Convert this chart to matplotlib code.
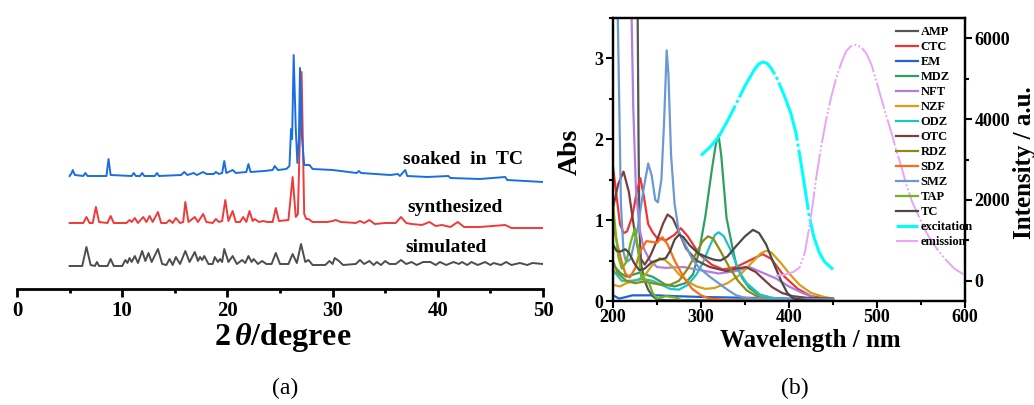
import matplotlib
matplotlib.use("Agg")
import matplotlib.pyplot as plt
from matplotlib.ticker import MultipleLocator

plt.rcParams["font.family"] = "Liberation Serif"
plt.rcParams["font.weight"] = "bold"
plt.rcParams["mathtext.fontset"] = "custom"
plt.rcParams["mathtext.it"] = "Liberation Serif:italic:bold"
plt.rcParams["mathtext.rm"] = "Liberation Serif:bold"

# ---------------- (a) XRD patterns, heights in plot units above the axis ----------------
sim_x = [5.0, 6.2, 6.6, 7.0, 7.4, 7.6, 7.8, 8.6, 8.9, 9.2, 10.0, 10.3, 10.5, 10.7, 10.9, 11.2, 11.5,
         11.9, 12.2, 12.5, 12.8, 13.4, 13.8, 14.2, 14.5, 14.8, 15.1, 15.5, 16.0, 16.4, 16.9, 17.2,
         17.4, 17.6, 17.8, 18.2, 18.6, 18.8, 19.1, 19.3, 19.5, 19.7, 20.1, 20.5, 20.9, 21.4, 21.7,
         22.0, 22.3, 22.5, 22.9, 23.3, 23.7, 24.2, 24.6, 25.0, 25.8, 26.2, 26.6, 27.0, 27.4, 27.7,
         28.1, 29.3, 29.7, 30.0, 30.2, 30.6, 31.0, 32.2, 32.6, 33.0, 33.5, 33.9, 34.2, 34.6, 35.0,
         35.4, 36.0, 36.5, 37.0, 37.5, 38.0, 38.6, 39.3, 39.8, 40.2, 40.8, 41.5, 42.0, 42.3, 42.8,
         43.2, 43.8, 44.5, 45.0, 45.3, 46.0, 46.5, 47.0, 47.8, 48.5, 49.0, 50.0]
sim_y = [23, 23, 42, 24, 23, 27, 23, 23, 30, 23, 23, 29, 26, 31, 27, 33, 26,
         38, 28, 36, 27, 40, 25, 24, 30, 24, 32, 25, 38, 27, 37, 28,
         32, 29, 33, 25, 25, 32, 27, 30, 27, 40, 27, 33, 25, 29, 26,
         33, 27, 30, 25, 28, 25, 25, 36, 25, 25, 35, 26, 45, 27, 29,
         24, 24, 28, 25, 31, 28, 24, 25, 29, 25, 28, 24, 27, 24, 28,
         25, 25, 29, 25, 27, 24, 27, 27, 24, 27, 24, 27, 25, 27, 24,
         27, 24, 27, 24, 26, 24, 27, 24, 26, 24, 26, 25]

syn_x = [5.0, 6.3, 6.6, 6.9, 7.2, 7.5, 7.8, 8.6, 8.9, 9.2, 10.4, 10.7, 10.9, 11.2, 11.5, 12.0, 12.3,
         12.6, 12.9, 13.4, 13.7, 14.2, 14.5, 14.8, 15.1, 15.5, 15.8, 16.0, 16.3, 16.9, 17.2, 17.7,
         18.0, 18.6, 18.9, 19.2, 19.5, 19.8, 20.1, 20.5, 20.8, 21.2, 21.5, 21.8, 22.1, 22.4, 22.6,
         23.0, 23.4, 23.8, 24.3, 24.6, 24.9, 25.8, 26.2, 26.5, 26.7, 27.05, 27.3, 27.5, 27.7, 28.1,
         29.5, 30.0, 30.3, 30.8, 32.2, 32.6, 33.0, 33.5, 34.0, 35.0, 36.0, 36.5, 37.0, 37.5, 38.5,
         39.2, 39.8, 40.4, 41.2, 41.9, 42.5, 44.0, 46.4, 47.0, 50.0]
syn_y = [66, 66, 72, 66, 66, 82, 67, 66, 73, 66, 66, 69, 67, 71, 66, 72, 67,
         73, 67, 77, 66, 66, 69, 66, 71, 66, 67, 87, 67, 72, 67, 75,
         67, 66, 70, 67, 68, 89, 68, 78, 67, 67, 72, 67, 78, 68, 70,
         67, 68, 67, 67, 81, 68, 69, 112, 72, 75, 217, 75, 70, 70, 67,
         67, 68, 69, 67, 66, 68, 66, 69, 65, 66, 66, 72, 66, 65, 64,
         67, 63, 64, 62, 67, 62, 62, 64, 61, 61]

soak_x = [5.0, 5.2, 5.3, 5.5, 6.3, 6.5, 6.7, 8.5, 8.7, 8.9, 10.9, 11.1, 11.3, 11.7, 11.9, 12.1,
          13.1, 13.3, 13.5, 15.6, 15.9, 16.2, 16.8, 17.1, 17.7, 18.0, 18.7, 18.9, 19.2, 19.5, 19.7,
          19.9, 20.5, 20.8, 21.8, 22.0, 22.2, 23.5, 24.3, 24.5, 24.8, 25.6, 25.9, 26.05, 26.15,
          26.3, 26.5, 26.65, 26.8, 26.9, 27.1, 27.3, 27.8, 28.1, 30.0, 32.3, 32.5, 32.7, 35.5,
          36.2, 36.4, 36.9, 37.1, 39.0, 41.0, 41.2, 44.0, 46.4, 46.6, 50.0]
soak_y = [113, 116, 119, 114, 113, 116, 113, 113, 130, 114, 113, 116, 113, 113, 116, 113,
          113, 116, 113, 114, 117, 114, 116, 114, 117, 115, 115, 117, 115, 116, 128,
          116, 119, 116, 117, 125, 117, 118, 119, 123, 119, 120, 123, 160, 150,
          234, 160, 126, 150, 221, 150, 124, 124, 120, 119, 116, 118, 116, 114,
          115, 113, 119, 113, 112, 113, 111, 110, 112, 109, 107]

# ---------------- (b) UV-vis absorbance ----------------
amp_x = [200, 226, 228, 229, 230, 232, 236, 240, 245, 250, 260, 450]
amp_y = [5.0, 4.5, 3.6, 2.0, 0.9, 0.45, 0.25, 0.14, 0.06, 0.02, 0.01, 0.0]
ctc_x = [200, 204, 208, 212, 216, 222, 227, 231, 235, 240, 245, 250, 260, 270, 277, 285, 298,
         312, 325, 340, 355, 370, 380, 395, 410, 425, 450]
ctc_y = [1.66, 1.3, 0.95, 0.84, 0.86, 1.05, 1.35, 1.52, 1.3, 0.95, 0.85, 0.78, 0.75, 0.82, 0.9,
         0.8, 0.58, 0.45, 0.39, 0.42, 0.5, 0.58, 0.52, 0.3, 0.15, 0.06, 0.02]
em_x = [200, 207, 215, 222, 235, 250, 270, 300, 350, 400, 450]
em_y = [0.07, 0.03, 0.05, 0.07, 0.07, 0.07, 0.06, 0.05, 0.04, 0.03, 0.02]
mdz_x = [200, 208, 215, 230, 245, 260, 270, 282, 291, 298, 305, 312, 317, 320, 323, 329, 335,
         340, 347, 355, 365, 380, 400, 450]
mdz_y = [0.45, 0.35, 0.3, 0.35, 0.3, 0.2, 0.18, 0.22, 0.33, 0.62, 1.05, 1.6, 1.95, 2.05, 1.8,
         1.03, 0.7, 0.45, 0.28, 0.16, 0.08, 0.04, 0.02, 0.01]
nft_x = [200, 219, 221, 223, 226, 230, 235, 242, 250, 260, 280, 300, 320, 340, 355, 370, 385,
         400, 415, 430, 450]
nft_y = [5.0, 4.5, 3.6, 2.4, 1.4, 0.9, 0.65, 0.5, 0.42, 0.41, 0.42, 0.38, 0.34, 0.37, 0.42,
         0.35, 0.28, 0.18, 0.1, 0.04, 0.02]
nzf_x = [200, 208, 215, 225, 235, 245, 253, 260, 268, 275, 285, 295, 305, 315, 330, 345, 360,
         368, 374, 380, 390, 401, 412, 425, 440, 450]
nzf_y = [0.2, 0.18, 0.22, 0.25, 0.3, 0.45, 0.53, 0.5, 0.42, 0.33, 0.24, 0.18, 0.15, 0.16, 0.22,
         0.33, 0.5, 0.59, 0.62, 0.6, 0.48, 0.33, 0.2, 0.1, 0.05, 0.03]
odz_x = [200, 210, 220, 235, 245, 255, 265, 275, 285, 295, 302, 310, 316, 320, 326, 335, 344,
         352, 367, 380, 400, 450]
odz_y = [0.38, 0.25, 0.25, 0.27, 0.25, 0.2, 0.15, 0.14, 0.2, 0.33, 0.47, 0.68, 0.82, 0.85, 0.8,
         0.6, 0.35, 0.22, 0.08, 0.04, 0.02, 0.01]
otc_x = [200, 206, 212, 218, 224, 230, 236, 242, 250, 257, 262, 268, 275, 283, 295, 310, 329,
         340, 351, 362, 372, 381, 392, 404, 420, 450]
otc_y = [1.15, 1.45, 1.6, 1.35, 0.9, 0.55, 0.45, 0.55, 0.75, 0.96, 1.07, 1.02, 0.85, 0.65,
         0.5, 0.42, 0.37, 0.4, 0.42, 0.36, 0.26, 0.17, 0.1, 0.06, 0.04, 0.03]
rdz_x = [200, 205, 215, 225, 235, 245, 255, 265, 275, 285, 295, 302, 308, 314, 322, 332, 342,
         352, 365, 380, 450]
rdz_y = [0.5, 0.35, 0.25, 0.22, 0.24, 0.22, 0.2, 0.2, 0.25, 0.4, 0.6, 0.74, 0.8, 0.77, 0.62,
         0.42, 0.25, 0.13, 0.05, 0.02, 0.01]
sdz_x = [200, 205, 210, 214, 219, 225, 231, 238, 245, 250, 256, 262, 270, 280, 290, 300, 310,
         330, 450]
sdz_y = [0.95, 0.7, 0.48, 0.34, 0.29, 0.4, 0.62, 0.74, 0.73, 0.72, 0.79, 0.7, 0.5, 0.3, 0.15,
         0.07, 0.03, 0.01, 0.0]
smz_x = [200, 205, 207, 209, 212, 215, 220, 228, 235, 240, 244, 248, 251, 255, 258, 261, 263,
         266, 270, 275, 282, 290, 298, 310, 320, 330, 340, 350, 360, 450]
smz_y = [4.0, 3.8, 2.5, 1.2, 0.6, 0.48, 0.52, 0.9, 1.4, 1.7, 1.55, 1.25, 1.22, 1.5, 2.2, 3.1,
         2.8, 1.8, 1.2, 0.85, 0.7, 0.52, 0.41, 0.3, 0.22, 0.14, 0.07, 0.04, 0.03, 0.02]
tap_x = [200, 203, 206, 210, 215, 220, 225, 229, 232, 236, 240, 245, 250, 260, 266, 272, 280,
         450]
tap_y = [1.2, 0.85, 0.55, 0.4, 0.48, 0.72, 0.9, 0.6, 0.3, 0.26, 0.25, 0.1, 0.03, 0.06, 0.05,
         0.04, 0.0, 0.0]
tc_x = [200, 204, 208, 214, 218, 224, 230, 236, 244, 252, 260, 265, 270, 275, 280, 287, 297,
        307, 315, 322, 330, 340, 350, 359, 366, 374, 382, 391, 398, 405, 420, 450]
tc_y = [0.7, 0.62, 0.61, 0.64, 0.6, 0.47, 0.38, 0.4, 0.48, 0.51, 0.53, 0.62, 0.76, 0.82, 0.79,
        0.69, 0.59, 0.54, 0.51, 0.5, 0.55, 0.68, 0.8, 0.88, 0.84, 0.7, 0.48, 0.25, 0.1, 0.03,
        0.01, 0.0]

# fluorescence (right axis)
exc_x = [300, 310, 320, 330, 340, 350, 360, 365, 370, 375, 380, 387, 395, 402, 408, 413, 418,
         423, 428, 434, 440, 450]
exc_y = [3100, 3300, 3560, 3950, 4380, 4820, 5200, 5350, 5410, 5380, 5250, 4980, 4560, 4150,
         3650, 3000, 2300, 1600, 1100, 720, 480, 280]
emi_x = [385, 395, 405, 412, 418, 423, 427, 431, 436, 442, 448, 454, 460, 465, 470, 476, 482,
         488, 494, 499, 505, 511, 517, 522, 528, 533, 540, 548, 556, 564, 572, 579, 588, 598]
emi_y = [120, 150, 220, 330, 700, 1320, 1900, 2560, 3250, 3960, 4550, 5040, 5420, 5680, 5800,
         5840, 5780, 5620, 5330, 4960, 4500, 4050, 3620, 3220, 2800, 2400, 1950, 1570, 1200, 910,
         680, 500, 300, 165]

abs_names = ["AMP", "CTC", "EM", "MDZ", "NFT", "NZF", "ODZ", "OTC", "RDZ", "SDZ", "SMZ", "TAP", "TC"]
abs_data = [(amp_x, amp_y), (ctc_x, ctc_y), (em_x, em_y), (mdz_x, mdz_y), (nft_x, nft_y),
            (nzf_x, nzf_y), (odz_x, odz_y), (otc_x, otc_y), (rdz_x, rdz_y), (sdz_x, sdz_y),
            (smz_x, smz_y), (tap_x, tap_y), (tc_x, tc_y)]
abs_colors = ["#555555", "#ee3535", "#1f63d8", "#2fa063", "#b07ee0", "#d4a017", "#1ec4c4",
              "#7b3f3f", "#8c8c14", "#ff6a13", "#6a9ad4", "#6db51b", "#4a4a4a"]

W, H = 1034, 405
fig = plt.figure(figsize=(W / 100, H / 100), dpi=100)

# ---- panel (a)
ax = fig.add_axes([17 / W, 1 - 289 / H, 526 / W, 269 / H])
ax.plot(sim_x, sim_y, color="#4d4d4d", lw=1.4)
ax.plot(syn_x, syn_y, color="#ee3a3a", lw=1.4)
ax.plot(soak_x, soak_y, color="#1a6ee0", lw=1.4)
ax.set_xlim(0, 50)
ax.set_ylim(0, 269)
for s in ["top", "left", "right"]:
    ax.spines[s].set_visible(False)
ax.spines["bottom"].set_linewidth(2)
ax.set_yticks([])
ax.xaxis.set_major_locator(MultipleLocator(10))
ax.xaxis.set_minor_locator(MultipleLocator(5))
ax.tick_params(axis="x", which="major", direction="out", length=6, width=2, labelsize=15, pad=3)
ax.tick_params(axis="x", which="minor", direction="out", length=3, width=2)
ax.text(36.7, 129, "soaked  in  TC", fontsize=14, va="center")
ax.text(37.1, 82, "synthesized", fontsize=14, va="center")
ax.text(36.9, 42, "simulated", fontsize=14, va="center")
fig.text(283 / W, 1 - 337 / H, r"2$\,\it{\theta}$/degree", fontsize=23, ha="center", va="center")
fig.text(285 / W, 1 - 388 / H, "(a)", fontsize=17, fontweight="normal", ha="center", va="center")

# ---- panel (b)
bx = fig.add_axes([613 / W, 1 - 301 / H, 352 / W, 283 / H])
handles = []
for name, (xs, ys), c in zip(abs_names, abs_data, abs_colors):
    h, = bx.plot(xs, ys, color=c, lw=1.6, label=name)
    handles.append(h)
bx.set_xlim(200, 600)
bx.set_ylim(0, 3.5)
bx.xaxis.set_major_locator(MultipleLocator(100))
bx.xaxis.set_minor_locator(MultipleLocator(50))
bx.yaxis.set_major_locator(MultipleLocator(1))
bx.yaxis.set_minor_locator(MultipleLocator(0.5))
bx.tick_params(which="major", direction="out", length=5, width=1.5, labelsize=13, pad=2)
bx.tick_params(axis="x", which="major", pad=1)
bx.tick_params(which="minor", direction="out", length=3, width=1.5)
for s in bx.spines.values():
    s.set_linewidth(1.6)

bx2 = bx.twinx()
h1, = bx2.plot(exc_x, exc_y, color="#00ffff", lw=2.2, ls=(0, (20, 1, 1, 1)), label="excitation")
h2, = bx2.plot(emi_x, emi_y, color="#eaa4f5", lw=1.4, ls=(0, (14, 1.2, 1, 1.2, 1, 1.2)),
               label="emission")
handles += [h1, h2]
bx2.set_ylim(-500, 6500)
bx2.yaxis.set_major_locator(MultipleLocator(2000))
bx2.yaxis.set_minor_locator(MultipleLocator(1000))
bx2.tick_params(which="major", direction="out", length=5, width=1.5, labelsize=13, pad=2)
bx2.tick_params(which="minor", direction="out", length=3, width=1.5)
for s in bx2.spines.values():
    s.set_linewidth(1.6)

bx2.legend(handles=handles, loc="upper left", bbox_to_anchor=(890 / W, 1 - 20 / H),
           bbox_transform=fig.transFigure, frameon=False, fontsize=9, borderpad=0,
           handlelength=1.75, handletextpad=0.2, labelspacing=0.24)

fig.text(570 / W, 1 - 152 / H, "Abs", fontsize=20, rotation=90, ha="center", va="center")
fig.text(1024 / W, 1 - 163 / H, "Intensity / a.u.", fontsize=18, rotation=90, ha="center", va="center")
fig.text(810 / W, 1 - 340 / H, "Wavelength / nm", fontsize=18, ha="center", va="center")
fig.text(795 / W, 1 - 388 / H, "(b)", fontsize=17, fontweight="normal", ha="center", va="center")

fig.savefig("out.png", dpi=100)
